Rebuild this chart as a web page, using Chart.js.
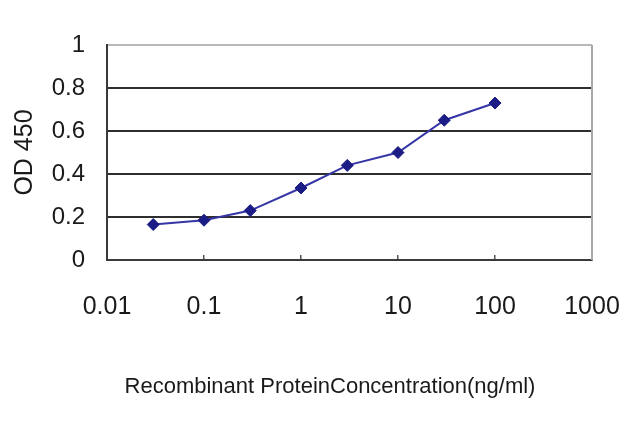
<!DOCTYPE html>
<html><head><meta charset="utf-8">
<script src="https://cdn.jsdelivr.net/npm/chart.js@4"></script>
<style>html,body{margin:0;padding:0;background:#fff}</style>
</head>
<body>
<canvas id="c" width="640" height="427"></canvas>
<script>
const concentrations = [0.03, 0.1, 0.3, 1, 3, 10, 30, 100];
const od450 = [0.165, 0.185, 0.23, 0.335, 0.44, 0.50, 0.65, 0.73];
const xTicks = [0.01, 0.1, 1, 10, 100, 1000];
const yTicks = [0, 0.2, 0.4, 0.6, 0.8, 1];
const xTitle = 'Recombinant ProteinConcentration(ng/ml)';
const yTitle = 'OD 450';

const FONT = "'Liberation Sans', Arial, sans-serif";

const framePlugin = {
  id: 'frame',
  afterDraw(chart) {
    const {ctx, chartArea: a} = chart;
    ctx.save();
    ctx.strokeStyle = '#a8a8a8';
    ctx.lineWidth = 2;
    ctx.beginPath();
    ctx.moveTo(a.right, a.top);
    ctx.lineTo(a.right, a.bottom);
    ctx.stroke();
    ctx.fillStyle = '#1a1a1a';
    ctx.font = "22px " + FONT;
    ctx.textAlign = 'center';
    ctx.textBaseline = 'middle';
    ctx.fillText(xTitle, a.left + 223, a.bottom + 127);
    ctx.restore();
  }
};

new Chart(document.getElementById('c'), {
  type: 'scatter',
  data: {
    datasets: [{
      data: concentrations.map((x, i) => ({x: x, y: od450[i]})),
      showLine: true,
      borderColor: '#3535a6',
      borderWidth: 2,
      pointStyle: 'rectRot',
      pointRadius: 6,
      pointBackgroundColor: '#1c1c86',
      pointBorderColor: '#1c1c86',
      pointBorderWidth: 1
    }]
  },
  options: {
    responsive: false,
    animation: false,
    devicePixelRatio: 1,
    layout: {autoPadding: false, padding: {left: 0, right: 48, top: 45, bottom: 0}},
    plugins: {legend: {display: false}, tooltip: {enabled: false}},
    scales: {
      x: {
        type: 'logarithmic',
        min: 0.01, max: 1000,
        afterBuildTicks: s => { s.ticks = xTicks.map(v => ({value: v})); },
        afterFit: s => { s.height = 167; s.paddingLeft = 0; s.paddingRight = 0; },
        ticks: {
          autoSkip: false, maxRotation: 0, minRotation: 0,
          padding: 37,
          color: '#1a1a1a',
          font: {family: FONT, size: 25},
          callback: v => String(v)
        },
        grid: {drawOnChartArea: false, drawTicks: true, tickLength: -5, color: '#555', lineWidth: 1.5},
        border: {display: true, color: '#3a3a3a', width: 2},
        title: {display: false}
      },
      y: {
        min: 0, max: 1,
        afterBuildTicks: s => { s.ticks = yTicks.map(v => ({value: v})); },
        afterFit: s => { s.width = 107; s.paddingTop = 0; s.paddingBottom = 0; },
        ticks: {
          padding: 22,
          color: '#1a1a1a',
          font: {family: FONT, size: 24},
          callback: v => String(Number(v.toFixed(1)))
        },
        grid: {
          drawTicks: false,
          color: c => (c.tick && c.tick.value === 1) ? '#b8b8b8' : '#2e2e2e',
          lineWidth: 2
        },
        border: {display: true, color: '#3a3a3a', width: 2},
        title: {
          display: true, text: yTitle, color: '#1a1a1a',
          font: {family: FONT, size: 25},
          padding: {top: 10, bottom: 0}
        }
      }
    }
  },
  plugins: [framePlugin]
});
</script>
</body></html>
